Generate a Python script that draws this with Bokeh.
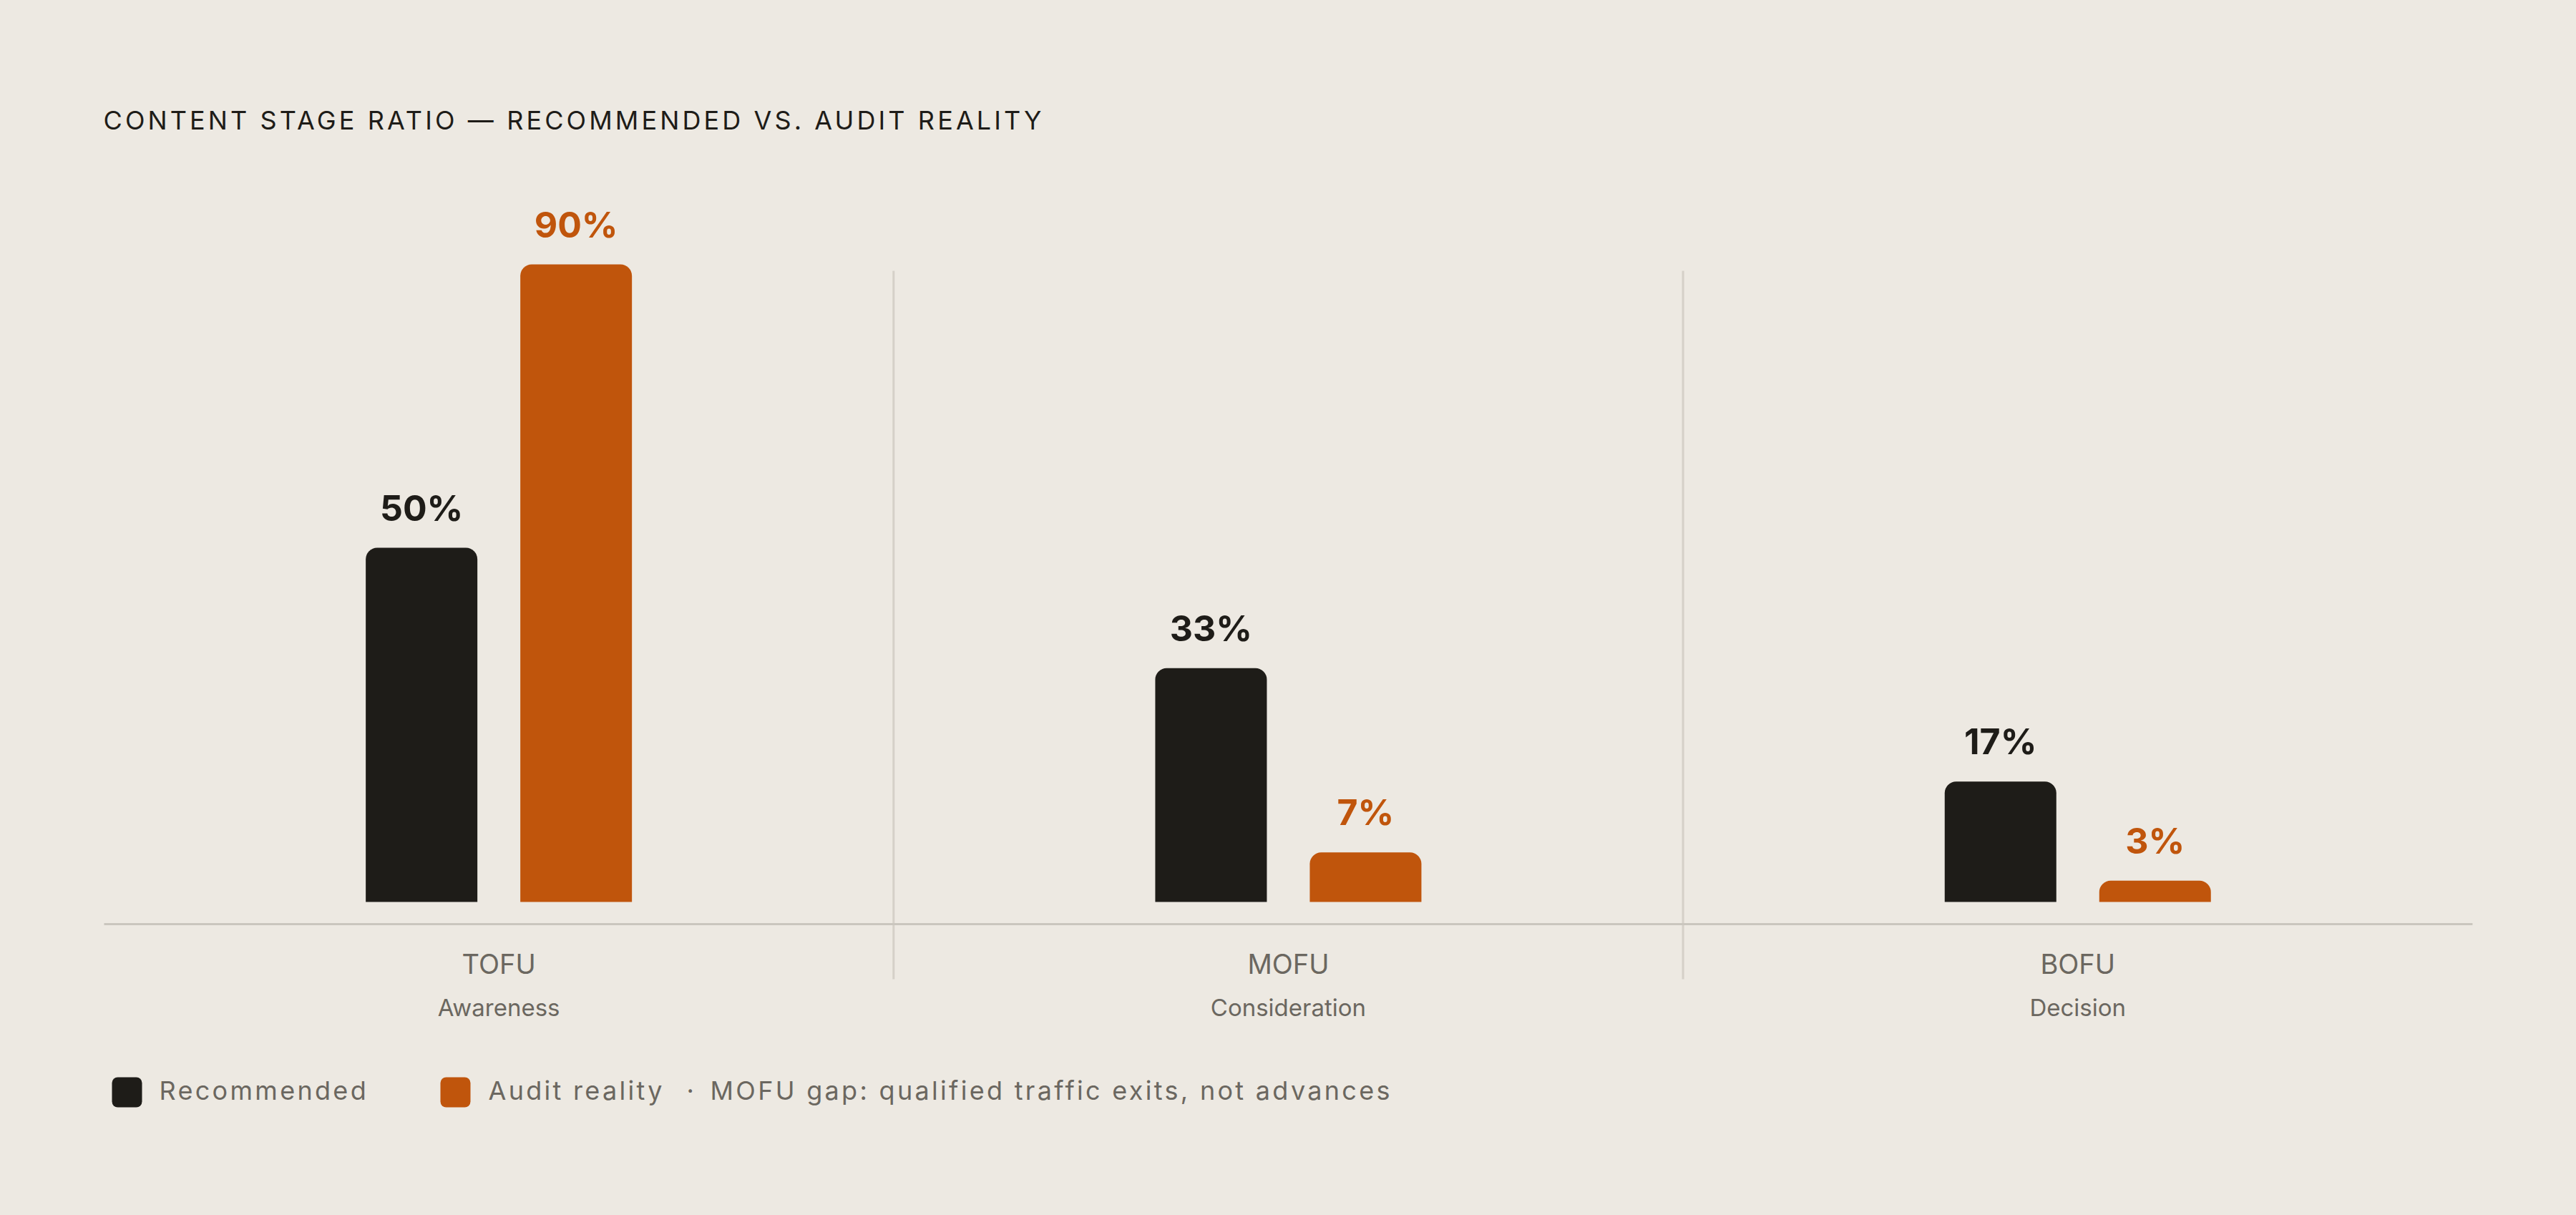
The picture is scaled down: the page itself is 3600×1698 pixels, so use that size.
from bokeh.plotting import figure
from bokeh.models import Range1d
from bokeh.layouts import column
from bokeh.core.properties import value
from bokeh.embed import file_html
from bokeh.resources import INLINE

# ---------------- data ----------------
stages = ["TOFU", "MOFU", "BOFU"]
stage_names = ["Awareness", "Consideration", "Decision"]
recommended = [50, 33, 17]
audit = [90, 7, 3]
series_names = ["Recommended", "Audit reality"]
title_text = "CONTENT STAGE RATIO \u2014 RECOMMENDED VS. AUDIT REALITY"
note_text = "MOFU gap: qualified traffic exits, not advances"

# ---------------- style ----------------
W = 3600
BG = "#ede9e2"
INK = "#1e1c18"
RUST = "#c0550c"
MUTED = "#6b6760"
RULE = "#cac6be"
SEP = "#d5d0c8"
FONT = "Inter"
SHIFT = 0.38  # baseline correction (fraction of font size)

TOP_H, CHART_H, LEG_H = 250, 1210, 238


def base_fig(h, **kw):
    f = figure(width=W, height=h, x_axis_location=None, y_axis_location=None,
               output_backend="svg", toolbar_location=None, min_border=0,
               background_fill_color=BG, border_fill_color=BG, outline_line_color=None, **kw)
    f.grid.visible = False
    return f


# ---------------- title ----------------
top = base_fig(TOP_H, x_range=Range1d(0, W), y_range=Range1d(TOP_H, 0),
               styles={"letter-spacing": "4.1px"})
top.text(x=[144], y=[181 - SHIFT * 36], text=[title_text], text_font=value(FONT),
         text_font_size="36px", text_color=INK, text_baseline="alphabetic", text_align="left")

# ---------------- chart ----------------
PX_LEFT = 145.0      # left end of baseline rule (page px)
GROUP_PX = 1103.3    # width of one stage group (px)
BASE_PX = 1260.0 - TOP_H   # bar baseline, px from chart top
UNIT_PX = 9.9        # px per percentage point


def ydat(px_from_top):
    return (BASE_PX - px_from_top) / UNIT_PX


def xdat(px_from_left):
    return (px_from_left - PX_LEFT) / GROUP_PX


p = base_fig(CHART_H, x_range=Range1d(xdat(0), xdat(W)), y_range=Range1d(ydat(CHART_H), ydat(0)))

n = len(stages)
centers = [i + 0.5 for i in range(n)]
off = 108 / GROUP_PX
bw = 156 / GROUP_PX
x_rec = [c - off for c in centers]
x_aud = [c + off for c in centers]

bounds = list(range(1, n))
p.segment(x0=bounds, x1=bounds, y0=[ydat(378 - TOP_H)] * len(bounds),
          y1=[ydat(1368 - TOP_H)] * len(bounds), line_color=SEP, line_width=3)
p.segment(x0=[0], x1=[n], y0=[ydat(1291 - TOP_H)], y1=[ydat(1291 - TOP_H)],
          line_color=RULE, line_width=3)

p.vbar(x=x_rec, top=recommended, bottom=0, width=bw, fill_color=INK, line_color=None,
       border_radius=(16, 16, 0, 0))
p.vbar(x=x_aud, top=audit, bottom=0, width=bw, fill_color=RUST, line_color=None,
       border_radius=(16, 16, 0, 0))

common = dict(text_align="center", text_baseline="alphabetic", text_font=value(FONT),
              text_font_style="bold", text_font_size="50px", y_offset=-(37 + SHIFT * 50))
p.text(x=x_rec, y=recommended, text=[f"{v}%" for v in recommended], text_color=INK, **common)
p.text(x=x_aud, y=audit, text=[f"{v}%" for v in audit], text_color=RUST, **common)

p.text(x=centers, y=[ydat(1361 - TOP_H - SHIFT * 38)] * n, text=stages, text_align="center",
       text_baseline="alphabetic", text_font=value(FONT), text_font_size="38px", text_color=MUTED)
p.text(x=centers, y=[ydat(1420 - TOP_H - SHIFT * 33)] * n, text=stage_names, text_align="center",
       text_baseline="alphabetic", text_font=value(FONT), text_font_size="33px", text_color=MUTED)

# ---------------- legend ----------------
LEG_TOP = TOP_H + CHART_H
leg = base_fig(LEG_H, x_range=Range1d(0, W), y_range=Range1d(LEG_H, 0),
               styles={"letter-spacing": "3.3px"})
sw_left = [156, 615]
leg.quad(left=sw_left, right=[v + 42 for v in sw_left], top=[1505 - LEG_TOP] * 2,
         bottom=[1547 - LEG_TOP] * 2, fill_color=[INK, RUST], line_color=None, border_radius=8)
legend_texts = [series_names[0], series_names[1], "\u00b7", note_text]
legend_x = [222, 682, 959, 992]
leg.text(x=legend_x, y=[1537 - LEG_TOP - SHIFT * 36] * len(legend_x), text=legend_texts,
         text_font=value(FONT), text_font_size="36px", text_color=MUTED,
         text_baseline="alphabetic", text_align="left")

layout = column(top, p, leg, spacing=0)

template = """{% block preamble %}<style>html, body { background: #ede9e2; }</style>{% endblock %}"""
open("out.html", "w").write(file_html(layout, INLINE, title="Content stage ratio", template=template))
